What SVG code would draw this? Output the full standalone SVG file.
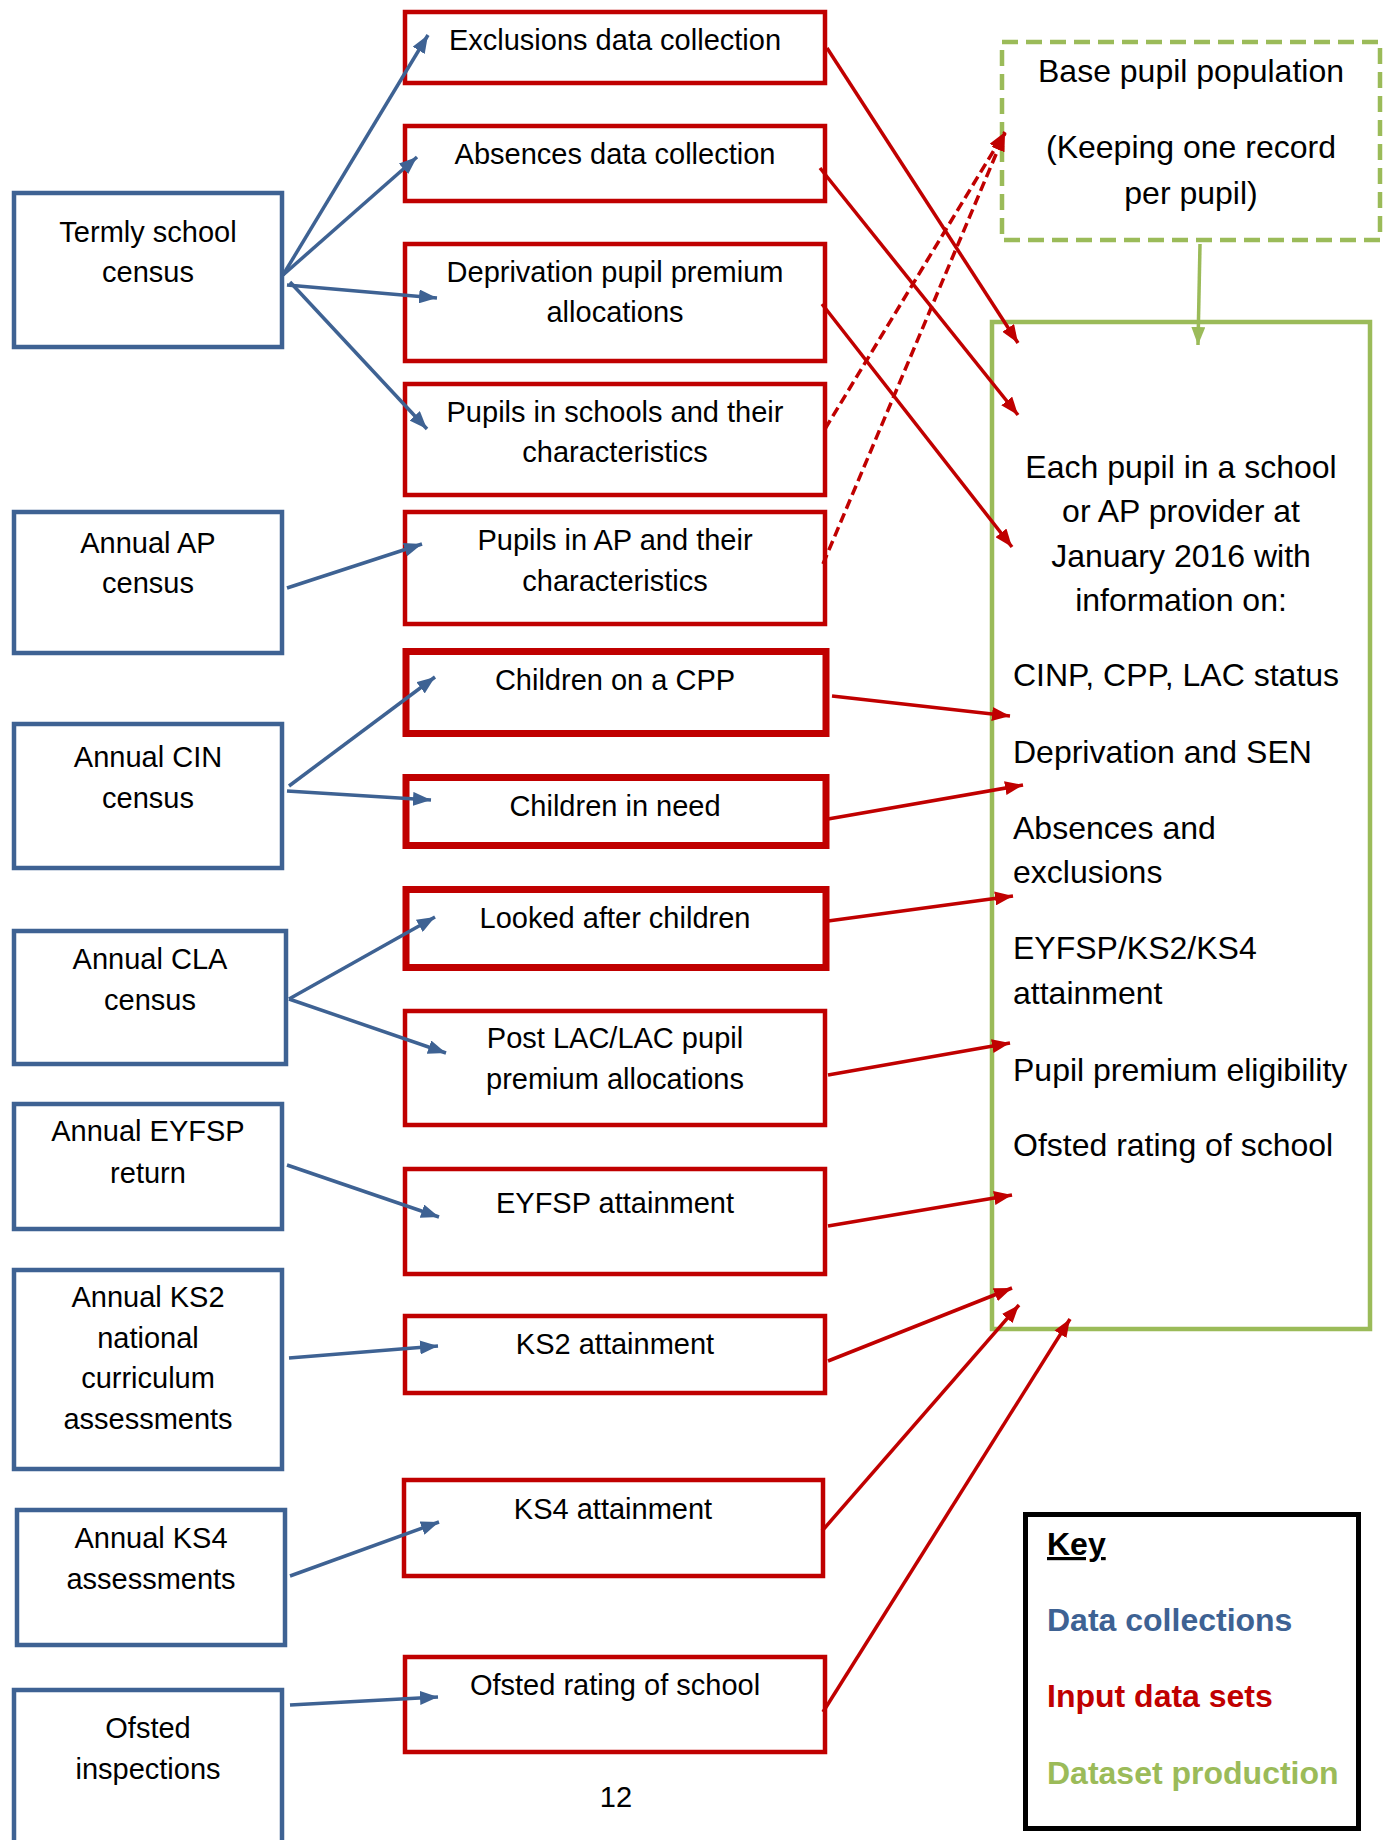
<svg xmlns="http://www.w3.org/2000/svg" width="1385" height="1840" viewBox="0 0 1385 1840">
<style>
text{font-family:"Liberation Sans",Arial,sans-serif;fill:#000}
.t{font-size:29px;text-anchor:middle}
.g{font-size:32px}
.gc{font-size:32px;text-anchor:middle}
.k{font-size:32px;font-weight:bold}
.blue{fill:none;stroke:#3E6293;stroke-width:4.5}
.red{fill:none;stroke:#C00000;stroke-width:4.5}
.redT{fill:none;stroke:#C00000;stroke-width:7}
.bl{stroke:#3E6293;stroke-width:3.5;fill:none;marker-end:url(#ab)}
.rl{stroke:#C00000;stroke-width:3.5;fill:none;marker-end:url(#ar)}
.rd{stroke:#C00000;stroke-width:3.5;fill:none;stroke-dasharray:10 5;marker-end:url(#ar)}
.gl{stroke:#9BBB59;stroke-width:3.5;fill:none;marker-end:url(#ag)}
</style>
<defs>
<marker id="ab" viewBox="0 0 18 14" refX="18" refY="7" markerWidth="18" markerHeight="14" markerUnits="userSpaceOnUse" orient="auto"><path d="M0,0 L18,7 L0,14 z" fill="#3E6293"/></marker>
<marker id="ar" viewBox="0 0 18 14" refX="18" refY="7" markerWidth="18" markerHeight="14" markerUnits="userSpaceOnUse" orient="auto"><path d="M0,0 L18,7 L0,14 z" fill="#C00000"/></marker>
<marker id="ag" viewBox="0 0 18 14" refX="18" refY="7" markerWidth="18" markerHeight="14" markerUnits="userSpaceOnUse" orient="auto"><path d="M0,0 L18,7 L0,14 z" fill="#9BBB59"/></marker>
</defs>
<rect width="1385" height="1840" fill="#fff"/>

<g id="collections">
<g id="termly"><rect class="blue" x="14" y="193" width="268" height="154"/><text class="t" x="148" y="242">Termly school</text><text class="t" x="148" y="282">census</text></g>
<g id="ap-census"><rect class="blue" x="14" y="512" width="268" height="141"/><text class="t" x="148" y="553">Annual AP</text><text class="t" x="148" y="593">census</text></g>
<g id="cin-census"><rect class="blue" x="14" y="724" width="268" height="144"/><text class="t" x="148" y="767">Annual CIN</text><text class="t" x="148" y="808">census</text></g>
<g id="cla-census"><rect class="blue" x="14" y="931" width="272" height="133"/><text class="t" x="150" y="969">Annual CLA</text><text class="t" x="150" y="1010">census</text></g>
<g id="eyfsp-return"><rect class="blue" x="14" y="1104" width="268" height="125"/><text class="t" x="148" y="1141">Annual EYFSP</text><text class="t" x="148" y="1183">return</text></g>
<g id="ks2-assess"><rect class="blue" x="14" y="1270" width="268" height="199"/><text class="t" x="148" y="1307">Annual KS2</text><text class="t" x="148" y="1348">national</text><text class="t" x="148" y="1388">curriculum</text><text class="t" x="148" y="1429">assessments</text></g>
<g id="ks4-assess"><rect class="blue" x="17" y="1510" width="268" height="135"/><text class="t" x="151" y="1548">Annual KS4</text><text class="t" x="151" y="1589">assessments</text></g>
<g id="ofsted-insp"><rect class="blue" x="14" y="1690" width="268" height="220"/><text class="t" x="148" y="1738">Ofsted</text><text class="t" x="148" y="1779">inspections</text></g>
</g>

<g id="inputs">
<g id="exclusions"><rect class="red" x="405" y="12" width="420" height="71"/><text class="t" x="615" y="50">Exclusions data collection</text></g>
<g id="absences"><rect class="red" x="405" y="126" width="420" height="75"/><text class="t" x="615" y="164">Absences data collection</text></g>
<g id="deprivation"><rect class="red" x="405" y="244" width="420" height="117"/><text class="t" x="615" y="282">Deprivation pupil premium</text><text class="t" x="615" y="322">allocations</text></g>
<g id="pupils-schools"><rect class="red" x="405" y="384" width="420" height="111"/><text class="t" x="615" y="422">Pupils in schools and their</text><text class="t" x="615" y="462">characteristics</text></g>
<g id="pupils-ap"><rect class="red" x="405" y="512" width="420" height="112"/><text class="t" x="615" y="550">Pupils in AP and their</text><text class="t" x="615" y="591">characteristics</text></g>
<g id="cpp"><rect class="redT" x="406" y="651.5" width="420" height="82"/><text class="t" x="615" y="690">Children on a CPP</text></g>
<g id="cin"><rect class="redT" x="406" y="777.5" width="420" height="68"/><text class="t" x="615" y="816">Children in need</text></g>
<g id="lac"><rect class="redT" x="406" y="889.5" width="420" height="78"/><text class="t" x="615" y="928">Looked after children</text></g>
<g id="post-lac"><rect class="red" x="405" y="1011" width="420" height="114"/><text class="t" x="615" y="1048">Post LAC/LAC pupil</text><text class="t" x="615" y="1089">premium allocations</text></g>
<g id="eyfsp-att"><rect class="red" x="405" y="1169" width="420" height="105"/><text class="t" x="615" y="1213">EYFSP attainment</text></g>
<g id="ks2-att"><rect class="red" x="405" y="1316" width="420" height="77"/><text class="t" x="615" y="1354">KS2 attainment</text></g>
<g id="ks4-att"><rect class="red" x="404" y="1480" width="419" height="96"/><text class="t" x="613" y="1519">KS4 attainment</text></g>
<g id="ofsted-rating"><rect class="red" x="405" y="1657" width="420" height="95"/><text class="t" x="615" y="1695">Ofsted rating of school</text></g>
</g>

<g id="base-pop"><rect x="1002" y="42" width="378" height="198" fill="none" stroke="#9BBB59" stroke-width="4.5" stroke-dasharray="16 8"/><text class="gc" x="1191" y="82">Base pupil population</text><text class="gc" x="1191" y="158">(Keeping one record</text><text class="gc" x="1191" y="204">per pupil)</text></g>

<g id="dataset"><rect x="992" y="322" width="378" height="1007" fill="none" stroke="#9BBB59" stroke-width="4.5"/>
<text class="gc" x="1181" y="478">Each pupil in a school</text>
<text class="gc" x="1181" y="522">or AP provider at</text>
<text class="gc" x="1181" y="567">January 2016 with</text>
<text class="gc" x="1181" y="611">information on:</text>
<text class="g" x="1013" y="686">CINP, CPP, LAC status</text>
<text class="g" x="1013" y="763">Deprivation and SEN</text>
<text class="g" x="1013" y="839">Absences and</text>
<text class="g" x="1013" y="883">exclusions</text>
<text class="g" x="1013" y="959">EYFSP/KS2/KS4</text>
<text class="g" x="1013" y="1004">attainment</text>
<text class="g" x="1013" y="1081">Pupil premium eligibility</text>
<text class="g" x="1013" y="1156">Ofsted rating of school</text>
</g>

<g id="key"><rect x="1025.5" y="1514.5" width="333" height="314" fill="none" stroke="#000" stroke-width="5"/>
<text class="k" x="1047" y="1555" text-decoration="underline">Key</text>
<text class="k" x="1047" y="1631" style="fill:#3E6293">Data collections</text>
<text class="k" x="1047" y="1707" style="fill:#C00000">Input data sets</text>
<text class="k" x="1047" y="1784" style="fill:#9BBB59">Dataset production</text>
</g>

<text class="t" x="616" y="1807">12</text>

<g id="connectors">
<line class="bl" x1="283" y1="275" x2="428" y2="35"/>
<line class="bl" x1="283" y1="275" x2="417" y2="157"/>
<line class="bl" x1="287" y1="285" x2="437" y2="298"/>
<line class="bl" x1="290" y1="282" x2="427" y2="429"/>
<line class="bl" x1="287" y1="588" x2="422" y2="544"/>
<line class="bl" x1="289" y1="786" x2="435" y2="677"/>
<line class="bl" x1="287" y1="791" x2="431" y2="800"/>
<line class="bl" x1="289" y1="999" x2="435" y2="917"/>
<line class="bl" x1="289" y1="999" x2="446" y2="1053"/>
<line class="bl" x1="287" y1="1165" x2="439" y2="1217"/>
<line class="bl" x1="289" y1="1358" x2="438" y2="1346"/>
<line class="bl" x1="290" y1="1576" x2="439" y2="1522"/>
<line class="bl" x1="290" y1="1705" x2="438" y2="1697"/>

<line class="rl" x1="827" y1="48" x2="1018" y2="343"/>
<line class="rl" x1="820" y1="168" x2="1018" y2="415"/>
<line class="rl" x1="822" y1="304" x2="1012" y2="547"/>
<line class="rd" x1="825" y1="429" x2="1005" y2="132"/>
<line class="rd" x1="823" y1="564" x2="1005" y2="133"/>
<line class="rl" x1="832" y1="696" x2="1010" y2="716"/>
<line class="rl" x1="828" y1="819" x2="1023" y2="785"/>
<line class="rl" x1="828" y1="921" x2="1013" y2="896"/>
<line class="rl" x1="828" y1="1075" x2="1010" y2="1043"/>
<line class="rl" x1="828" y1="1226" x2="1012" y2="1195"/>
<line class="rl" x1="828" y1="1361" x2="1012" y2="1288"/>
<line class="rl" x1="822" y1="1531" x2="1019" y2="1305"/>
<line class="rl" x1="823" y1="1712" x2="1070" y2="1319"/>

<line class="gl" x1="1200" y1="244" x2="1198" y2="345"/>
</g>
</svg>
